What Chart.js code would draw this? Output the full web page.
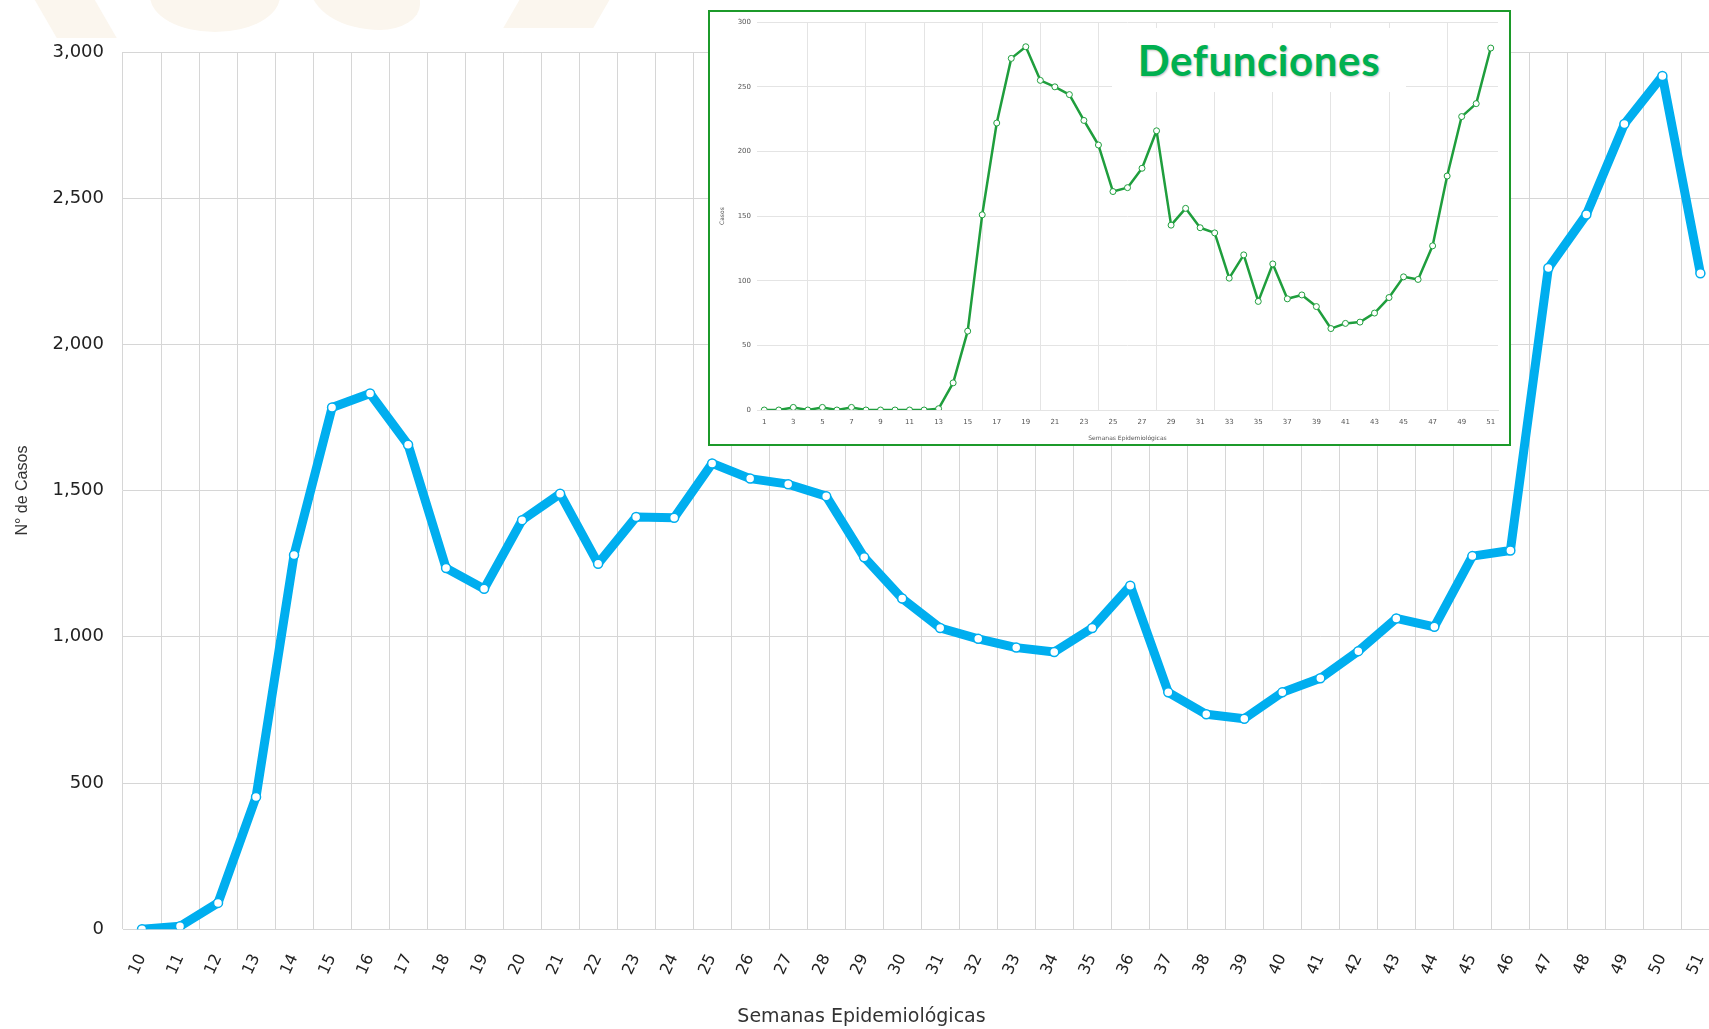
<!DOCTYPE html>
<html>
<head>
<meta charset="utf-8">
<script src="https://cdn.jsdelivr.net/npm/chart.js@4.4.1/dist/chart.umd.min.js"></script>
<style>
  html, body { margin: 0; padding: 0; background: #fff; overflow: hidden; }
  #page { position: relative; width: 1709px; height: 1029px; overflow: hidden; }
  .wm { position: absolute; background: #fbf6ee; }
  #mainWrap { position: absolute; left: 0; top: 0; width: 1740px; height: 1029px; }
  #inset { position: absolute; left: 708px; top: 10px; width: 799px; height: 432px;
           border: 2px solid #1c9a2a; background: #fff; }
  #defLabel { position: absolute; left: 1112px; top: 28px; width: 294px; height: 64px;
              background: #fff; color: #00b050; font: 700 42px Lato, "Open Sans", sans-serif;
              letter-spacing: 0.6px;
              text-align: center; line-height: 64px; text-shadow: 1px 1px 2px rgba(0,0,0,0.25); }
</style>
</head>
<body>
<div id="page">
  <!-- faint watermark at the top edge -->
  <div class="wm" style="left:40px;top:-20px;width:60px;height:58px;transform:skewX(30deg);"></div>
  <div class="wm" style="left:150px;top:-40px;width:130px;height:72px;border-radius:0 0 60% 60%;"></div>
  <div class="wm" style="left:310px;top:-40px;width:110px;height:70px;border-radius:0 0 40% 70%;"></div>
  <div class="wm" style="left:520px;top:-30px;width:90px;height:58px;transform:skewX(-30deg);"></div>
  <div id="mainWrap"><canvas id="mainChart" width="1740" height="1029"></canvas></div>
  <div id="inset"><canvas id="insetChart" width="799" height="432"></canvas></div>
  <div id="defLabel">Defunciones</div>
</div>
<script>
// Casos por semana epidemiológica (semanas 10-51)
const semanas = ['10','11','12','13','14','15','16','17','18','19','20','21','22','23','24','25','26','27','28','29','30',
  '31','32','33','34','35','36','37','38','39','40','41','42','43','44','45','46','47','48','49','50','51'];
const casos = [0, 10, 90, 452, 1280, 1784, 1832, 1657, 1235, 1164, 1399, 1489, 1250, 1410, 1407, 1593, 1541, 1522, 1481, 1272,
  1131, 1030, 993, 963, 948, 1030, 1175, 810, 735, 720, 810, 858, 951, 1063, 1034, 1276, 1295, 2261, 2444, 2754, 2918, 2243];

// Defunciones por semana (semanas 1-51)
const semanasDef = ['1','2','3','4','5','6','7','8','9','10','11','12','13','14','15','16','17','18','19','20','21','22','23','24','25',
  '26','27','28','29','30','31','32','33','34','35','36','37','38','39','40','41','42','43','44','45','46','47','48','49','50','51'];
const defunciones = [0, 0, 2, 0, 2, 0, 2, 0, 0, 0, 0, 0, 1, 21, 61, 151, 222, 272, 281, 255, 250, 244, 224, 205, 169,
  172, 187, 216, 143, 156, 141, 137, 102, 120, 84, 113, 86, 89, 80, 63, 67, 68, 75, 87, 103, 101, 127, 181, 227, 237, 280];

const gridCol = '#d6d6d6';

new Chart(document.getElementById('mainChart'), {
  type: 'line',
  data: {
    labels: semanas,
    datasets: [{
      label: 'Casos',
      data: casos,
      borderColor: '#00aeef',
      borderWidth: 9,
      borderJoinStyle: 'round',
      borderCapStyle: 'round',
      pointRadius: 4.5,
      pointBorderWidth: 1.5,
      pointBackgroundColor: '#fff',
      pointBorderColor: '#00aeef',
      tension: 0
    }]
  },
  options: {
    responsive: false,
    animation: false,
    layout: { padding: { top: 52, right: 17, left: 0, bottom: 1 } },
    plugins: {
      legend: { display: false },
      tooltip: { enabled: false },
      title: {
        display: true, position: 'bottom', text: 'Semanas Epidemiológicas',
        color: '#333', font: { family: 'DejaVu Sans', size: 19, weight: 'normal' },
        padding: { top: 0, bottom: 0 }
      }
    },
    scales: {
      x: {
        offset: true,
        grid: { offset: true, color: gridCol, drawTicks: false },
        border: { color: gridCol },
        ticks: { autoSkip: false, minRotation: 65, maxRotation: 65, padding: 22, color: '#222',
                 font: { family: 'DejaVu Sans', size: 16 } },
        afterFit: s => { s.height = 76; }
      },
      y: {
        min: 0, max: 3000,
        ticks: { stepSize: 500, padding: 19, color: '#222', font: { family: 'DejaVu Sans', size: 18 } },
        grid: { color: gridCol, drawTicks: false },
        border: { display: false },
        title: { display: true, text: 'N° de Casos', color: '#333',
                 font: { family: 'Liberation Sans', size: 16 }, padding: { top: 13, bottom: 0 } },
        afterFit: s => { s.width = 123; }
      }
    }
  }
});

new Chart(document.getElementById('insetChart'), {
  type: 'line',
  data: {
    labels: semanasDef,
    datasets: [{
      label: 'Defunciones',
      data: defunciones,
      borderColor: '#1f9e3d',
      borderWidth: 2.5,
      borderJoinStyle: 'round',
      pointRadius: 3,
      pointBorderWidth: 1,
      pointBackgroundColor: '#fff',
      pointBorderColor: '#1f9e3d',
      tension: 0
    }]
  },
  options: {
    responsive: false,
    animation: false,
    layout: { padding: { top: 4, right: 11, left: 0, bottom: 0 } },
    plugins: { legend: { display: false }, tooltip: { enabled: false } },
    scales: {
      x: {
        offset: true,
        grid: { offset: true, color: '#e4e4e4', drawTicks: false },
        border: { color: '#e4e4e4' },
        ticks: { autoSkip: true, maxTicksLimit: 26, maxRotation: 0, padding: 8, color: '#555',
                 font: { family: 'DejaVu Sans', size: 7 } },
        title: { display: true, text: 'Semanas Epidemiológicas', color: '#555',
                 font: { family: 'DejaVu Sans', size: 6 }, padding: { top: 0, bottom: 2 } },
        afterFit: s => { s.height = 34; }
      },
      y: {
        min: 0, max: 300,
        ticks: { stepSize: 50, padding: 6, color: '#555', font: { family: 'DejaVu Sans', size: 7 } },
        grid: { color: '#e4e4e4', drawTicks: false },
        border: { display: false },
        title: { display: true, text: 'Casos', color: '#555',
                 font: { family: 'DejaVu Sans', size: 6 }, padding: { top: 9, bottom: 0 } },
        afterFit: s => { s.width = 47; }
      }
    }
  }
});
</script>
</body>
</html>
